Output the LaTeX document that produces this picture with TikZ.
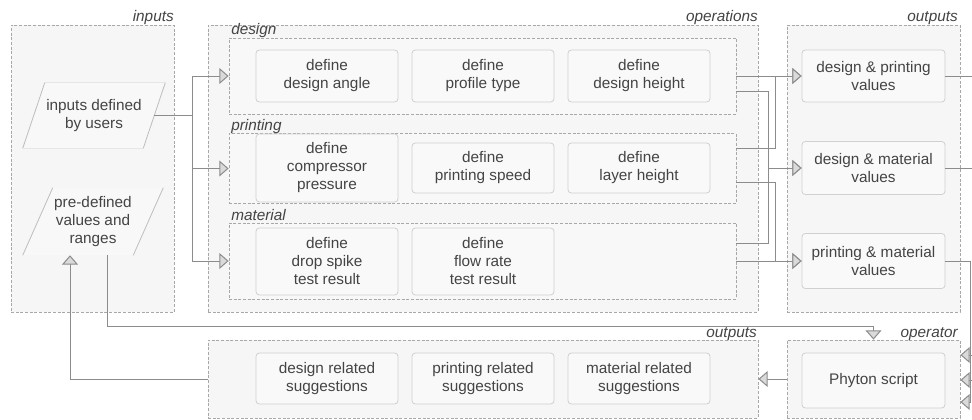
\documentclass[tikz,border=0pt]{standalone}
\usepackage{fontspec}
\setmainfont{Liberation Sans}
\usetikzlibrary{arrows.meta,calc}
\definecolor{grpfill}{HTML}{F6F6F6}
\definecolor{subfill}{HTML}{F8F8F8}
\definecolor{grpline}{HTML}{A8A8A8}
\definecolor{boxline}{HTML}{D0D0D0}
\definecolor{boxfill}{HTML}{F9F9F9}
\definecolor{txt}{HTML}{444444}
\definecolor{connline}{HTML}{8C8C8C}
\definecolor{tipfill}{HTML}{DADADA}
\definecolor{pside}{HTML}{BDBDBD}
\definecolor{pfaint}{HTML}{E6E6E6}
\tikzset{
  grp/.style={draw=grpline, dash pattern=on 2.2pt off 1.3pt, fill=grpfill, line width=0.6pt, inner sep=0pt},
  subgrp/.style={draw=grpline, dash pattern=on 2.2pt off 1.3pt, fill=subfill, line width=0.6pt, inner sep=0pt},
  ibox/.style={draw=boxline, fill=boxfill, rounded corners=2.5pt, line width=0.6pt, align=center, text=txt,
     font=\fontsize{11.5}{13.5}\selectfont, inner sep=0pt, minimum width=106.5pt},
  ptext/.style={align=center, text=txt, font=\fontsize{11.5}{13.5}\selectfont, inner sep=0pt},
  glabel/.style={font=\fontsize{11.5}{13}\selectfont\itshape, text=txt, inner sep=0pt},
  conn/.style={draw=connline, line width=0.75pt},
  arr/.style={conn, -{Triangle[length=7pt,width=12pt,fill=tipfill]}},
}
\begin{document}
\begin{tikzpicture}[x=0.75pt,y=-0.75pt]
\useasboundingbox (0,0) rectangle (972,419);
\fill[white] (0,0) rectangle (972,419);
\clip (0,0) rectangle (972,419);

% groups
\node[grp, minimum width=122.25pt, minimum height=215.25pt] (inputs) at (92.5,168.5) {};
\node[grp, minimum width=412.5pt, minimum height=215.25pt] (ops) at (483,168.5) {};
\node[grp, minimum width=129.75pt, minimum height=215.25pt] (outs) at (873.5,168.5) {};
\node[grp, minimum width=412.5pt, minimum height=58.5pt] (bouts) at (483,379) {};
\node[grp, minimum width=129.75pt, minimum height=58.5pt] (oper) at (873.5,379) {};

\node[glabel, anchor=base east] (linputs) at (174,21) {inputs};
\node[glabel, anchor=base east] (lops) at (758,21) {operations};
\node[glabel, anchor=base east] (louts) at (958,21) {outputs};
\node[glabel, anchor=base east] (lbouts) at (757,337) {outputs};
\node[glabel, anchor=base east] (loper) at (958,337) {operator};

% sub groups
\node[subgrp, minimum width=380.25pt, minimum height=57pt] (design) at (482.5,76) {};
\node[subgrp, minimum width=380.25pt, minimum height=52.5pt] (printing) at (482.5,168.5) {};
\node[subgrp, minimum width=380.25pt, minimum height=57pt] (material) at (482.5,261) {};
\node[glabel, anchor=base west] (ldesign) at (231,34) {design};
\node[glabel, anchor=base west] (lprinting) at (231,130) {printing};
\node[glabel, anchor=base west] (lmaterial) at (231,220) {material};

% inner boxes
\node[ibox, minimum height=39pt] (d1) at (327,76) {define\\design angle};
\node[ibox, minimum height=39pt] (d2) at (483,76) {define\\profile type};
\node[ibox, minimum height=39pt] (d3) at (639,76) {define\\design height};
\node[ibox, minimum height=51pt] (p1) at (327,168) {define\\compressor\\pressure};
\node[ibox, minimum height=37.5pt] (p2) at (483,168) {define\\printing speed};
\node[ibox, minimum height=37.5pt] (p3) at (639,168) {define\\layer height};
\node[ibox, minimum height=50.25pt] (m1) at (327,261.5) {define\\drop spike\\test result};
\node[ibox, minimum height=50.25pt] (m2) at (483,261.5) {define\\flow rate\\test result};

\node[ibox, minimum width=107.25pt, minimum height=39pt] (out1) at (873.5,76) {design \& printing\\values};
\node[ibox, minimum width=107.25pt, minimum height=39.75pt] (out2) at (873.5,168) {design \& material\\values};
\node[ibox, minimum width=107.25pt, minimum height=41.25pt] (out3) at (873.5,261) {printing \& material\\values};

\node[ibox, minimum height=38.25pt] (b1) at (327,378.5) {design related\\suggestions};
\node[ibox, minimum height=38.25pt] (b2) at (483,378.5) {printing related\\suggestions};
\node[ibox, minimum height=38.25pt] (b3) at (639,378.5) {material related\\suggestions};
\node[ibox, minimum width=107.25pt, minimum height=41.25pt] (phy) at (873.5,380.5) {Phyton script};

% parallelograms
\node[ptext, minimum width=90pt, minimum height=48.75pt] (users) at (94,115.5) {};
\node[ptext, minimum width=82.5pt, minimum height=50.25pt] (pre) at (93,221.5) {};
\fill[subfill] ($(users.north west)+(11,0)$) -- ($(users.north east)+(11,0)$) -- ($(users.south east)+(-11,0)$) -- ($(users.south west)+(-11,0)$) -- cycle;
\draw[pfaint, line width=0.6pt] ($(users.north west)+(11,0)$) -- ($(users.north east)+(11,0)$)
   ($(users.south west)+(-11,0)$) -- ($(users.south east)+(-11,0)$);
\draw[pside, line width=0.6pt] ($(users.north west)+(11,0)$) -- ($(users.south west)+(-11,0)$)
   ($(users.north east)+(11,0)$) -- ($(users.south east)+(-11,0)$);
\fill[subfill] ($(pre.north west)+(15,0)$) -- ($(pre.north east)+(15,0)$) -- ($(pre.south east)+(-15,0)$) -- ($(pre.south west)+(-15,0)$) -- cycle;
\draw[pside, line width=0.6pt] ($(pre.north west)+(15,0)$) -- ($(pre.south west)+(-15,0)$)
   ($(pre.north east)+(15,0)$) -- ($(pre.south east)+(-15,0)$);
\node[ptext] (userstext) at (users) {inputs defined\\by users};
\node[ptext] (pretext) at (pre) {pre-defined\\values and\\ranges};

% connectors: inputs -> operations
\draw[conn] (users.east) -- ++(38,0) coordinate (split);
\draw[arr] (split |- design.west) -- (design.west);
\draw[arr] (split |- printing.west) -- (printing.west);
\draw[arr] (split |- material.west) -- (material.west);
\draw[conn] (split |- design.west) -- (split |- material.west);

% operations -> outputs
\draw[arr] (design.east) -- (out1.west);
\draw[arr] ($(design.east)+(0,15)$) -- ++(32,0) |- (out2.west);
\draw[arr] ($(printing.east)+(0,-20.5)$) -- ++(39,0) |- (out1.west);
\draw[arr] ($(printing.east)+(0,13.5)$) -- ++(39,0) |- (out3.west);
\draw[arr] ($(material.east)+(0,-18)$) -- ++(32,0) |- (out2.west);
\draw[arr] (material.east) -- (out3.west);

% outputs -> operator
\draw[arr] (out1.east) -- ++(40,0) |- ($(oper.east)+(0,-24)$);
\draw[arr] (out2.east) -- ++(31,0) |- ($(oper.east)+(0,1)$);
\draw[arr] (out3.east) -- ++(25,0) |- ($(oper.east)+(0,23)$);

% pre-defined -> operator
\draw[arr] ($(pre.south)+(14,0)$) -- ++(0,71) -| (oper.north);
% operator -> suggestions
\draw[arr] (oper.west) -- (bouts.east);
% suggestions -> pre-defined
\draw[arr] (bouts.west) -| ($(pre.south)+(-23,0)$);
\end{tikzpicture}
\end{document}
